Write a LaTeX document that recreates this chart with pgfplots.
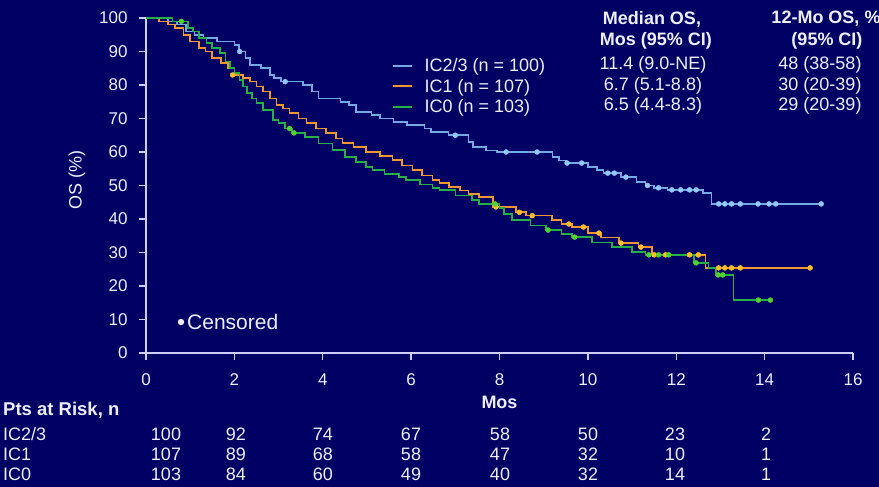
\documentclass[border=0pt]{standalone}
\usepackage{pgfplots}
\pgfplotsset{compat=1.18}
\usepackage{fontspec}
\setmainfont{Liberation Sans}
\definecolor{bg}{RGB}{0,0,100}
\definecolor{axc}{RGB}{205,205,255}
\definecolor{txt}{RGB}{238,238,255}
\definecolor{cblue}{RGB}{115,170,230}
\definecolor{cblueM}{RGB}{145,200,245}
\definecolor{corange}{RGB}{240,150,50}
\definecolor{corangeM}{RGB}{250,190,40}
\definecolor{cgreen}{RGB}{40,175,70}
\definecolor{cgreenM}{RGB}{80,210,50}
\newcommand\fs[1]{\fontsize{#1}{#1}\selectfont}
\begin{document}
\begin{tikzpicture}
\fill[bg] (0,0) rectangle (879pt,487pt);
\begin{axis}[
  at={(146pt,134pt)}, anchor=south west,
  width=707pt, height=335pt, scale only axis,
  xmin=0, xmax=16, ymin=0, ymax=100,
  axis x line*=bottom, axis y line*=left,
  xtick={0,2,...,16}, ytick={0,10,...,100},
  tick align=outside, major tick length=7pt,
  axis line style={axc, line width=1.6pt},
  every tick/.style={axc, line width=1.4pt},
  ticklabel style={font=\fs{17}, text=txt},
  xticklabel style={yshift=-10pt},
  yticklabel style={xshift=-8pt},
  /pgf/number format/assume math mode=true,
  xlabel={\textbf{Mos}},
  xlabel style={at={(axis description cs:0.5,-0.146)}, anchor=center, font=\fs{18}, text=txt},
  ylabel={OS (\%)},
  ylabel style={at={(axis description cs:-0.0976,0.516)}, anchor=center, font=\fs{18}, text=txt},
  legend style={at={(axis description cs:0.348,0.884)}, anchor=north west, draw=none, fill=none,
    font=\fs{18}, text=txt, inner sep=0pt, row sep=3pt, nodes={inner sep=1.5pt},
    /tikz/every odd column/.append style={column sep=10pt}},
  legend cell align=left,
  legend image code/.code={\draw[#1, line width=1.8pt] (0pt,0pt) -- (19pt,0pt);},
]
\addplot[const plot, cblue, line width=1.6pt] coordinates {
(0,100) (0.5,99) (0.7,98) (0.9,96) (1.1,95) (1.3,94) (1.6,93) (2.0,92) (2.1,90) (2.25,88) (2.35,86) (2.6,85) (2.8,83) (2.9,82) (3.05,81) (3.55,80) (3.75,78) (3.9,76) (4.4,75) (4.6,74) (4.75,72) (5.1,71) (5.3,70) (5.6,69) (5.9,68) (6.3,67) (6.45,66) (6.85,65) (7.3,63) (7.4,61.5) (7.7,60.5) (7.95,60) (9.2,58.5) (9.35,57.5) (9.5,56.7) (10.0,55.5) (10.2,54.6) (10.35,53.7) (10.75,52.5) (11.1,51) (11.3,50) (11.5,49.3) (11.8,48.7) (12.6,47.8) (12.8,44.5) (15.3,44.5)};
\addplot[const plot, corange, line width=1.6pt] coordinates {
(0,100) (0.3,99) (0.5,98) (0.65,97) (0.85,95) (1.0,93) (1.2,91) (1.35,90) (1.5,88) (1.7,86.5) (1.85,85) (2.0,83) (2.2,82) (2.35,81) (2.5,79.5) (2.65,78) (2.8,76) (2.95,74) (3.1,73) (3.25,71.6) (3.45,70) (3.63,68.7) (3.85,67) (4.08,65.7) (4.3,64) (4.45,62.7) (4.7,61.5) (4.98,60) (5.3,58.8) (5.58,57.6) (5.8,56) (6.03,54.6) (6.25,53) (6.48,51.6) (6.64,50.7) (6.86,49.6) (7.1,48.5) (7.3,47.5) (7.54,46.6) (7.85,43.6) (8.37,42) (8.6,41) (9.19,39.7) (9.4,38.5) (9.64,37.6) (10.0,35.8) (10.3,34.5) (10.7,32.8) (11.15,31.6) (11.45,29.3) (12.66,25.4) (15.03,25.4)};
\addplot[const plot, cgreen, line width=1.6pt] coordinates {
(0,100) (0.6,99) (0.95,97) (1.06,96) (1.2,94) (1.37,92.5) (1.5,91) (1.67,89.5) (1.8,87) (1.9,85) (2.0,83.5) (2.12,81.5) (2.2,79.5) (2.28,77.6) (2.4,76) (2.5,74.6) (2.65,72.5) (2.87,69.6) (3.0,68.7) (3.15,67) (3.3,65.7) (3.6,64.5) (3.9,62.5) (4.22,60.6) (4.5,58.5) (4.75,57) (4.98,55.5) (5.13,54.6) (5.4,53.5) (5.73,52.5) (5.89,51.6) (6.2,50.3) (6.48,49.3) (6.64,48.7) (7.0,47) (7.38,45.7) (7.54,44.5) (8.0,43.3) (8.1,41.5) (8.28,39.7) (8.7,38) (9.05,36.7) (9.4,35.5) (9.64,34.6) (10.1,33) (10.54,31.6) (11.0,30.2) (11.3,29.3) (12.4,26.9) (12.73,25.4) (12.9,23.3) (13.3,15.8) (14.13,15.8)};
\legend{IC2/3 (n = 100), IC1 (n = 107), IC0 (n = 103)}
\addplot[only marks, mark=*, mark size=2.5pt, cblueM, forget plot] coordinates {
(2.12,90) (3.15,81) (7.0,65) (8.15,60) (8.85,60) (9.53,56.7) (9.86,56.7) (10.45,53.7) (10.6,53.7) (10.86,52.5) (11.35,50) (11.6,49.3) (11.9,48.7) (12.1,48.7) (12.3,48.7) (12.45,48.7) (12.96,44.5) (13.1,44.5) (13.25,44.5) (13.45,44.5) (13.85,44.5) (14.1,44.5) (14.25,44.5) (15.28,44.5)};
\addplot[only marks, mark=*, mark size=2.5pt, corangeM, forget plot] coordinates {
(1.96,83) (7.92,43.6) (8.45,42) (8.74,41) (9.57,38.5) (9.9,37.6) (10.25,35.8) (10.75,32.8) (11.2,31.6) (11.5,29.3) (11.76,29.3) (12.3,29.3) (12.5,29.3) (12.96,25.4) (13.1,25.4) (13.25,25.4) (13.45,25.4) (15.03,25.4)};
\addplot[only marks, mark=*, mark size=2.5pt, cgreenM, forget plot] coordinates {
(0.8,99) (3.25,67) (3.35,65.7) (7.9,44.5) (9.1,36.7) (9.7,34.6) (11.38,29.3) (11.6,29.3) (11.83,29.3) (12.45,26.9) (12.95,23.3) (13.05,23.3) (13.86,15.8) (14.13,15.8)};
\end{axis}
% table header columns
\begin{scope}[every node/.style={text=txt, font=\fs{18}, inner sep=0pt}]
\node at (652pt,468pt) {\textbf{Median OS,}};
\node at (656pt,446pt) {\textbf{Mos (95\% CI)}};
\node at (826pt,468pt) {\textbf{12-Mo OS, \%}};
\node at (827pt,446pt) {\textbf{(95\% CI)}};
\node at (653pt,422pt) {11.4 (9.0-NE)};
\node at (653pt,401.5pt) {6.7 (5.1-8.8)};
\node at (653pt,381pt) {6.5 (4.4-8.3)};
\node at (820pt,422pt) {48 (38-58)};
\node at (820pt,401.5pt) {30 (20-39)};
\node at (820pt,381pt) {29 (20-39)};
% censored key
\fill[txt] (181pt,165pt) circle (3.2pt);
\node[anchor=west, font=\fs{21}] at (187pt,165pt) {Censored};
% at-risk table
\node[anchor=base west, font=\fs{18.5}\bfseries] at (3pt,71pt) {Pts at Risk, n};
\node[anchor=base west] at (3pt,46pt) {IC2/3};
\node[anchor=base west] at (3pt,26pt) {IC1};
\node[anchor=base west] at (3pt,6.5pt) {IC0};
\foreach \x/\a/\b/\c in {166/100/107/103, 236/92/89/84, 323/74/68/60, 411/67/58/49, 500/58/47/40, 588/50/32/32, 675/23/10/14, 766/2/1/1}{
  \node[anchor=base] at (\x pt,46pt) {\a};
  \node[anchor=base] at (\x pt,26pt) {\b};
  \node[anchor=base] at (\x pt,6.5pt) {\c};
}
\end{scope}
\pgfresetboundingbox
\useasboundingbox (0,0) rectangle (879pt,487pt);
\end{tikzpicture}
\end{document}
